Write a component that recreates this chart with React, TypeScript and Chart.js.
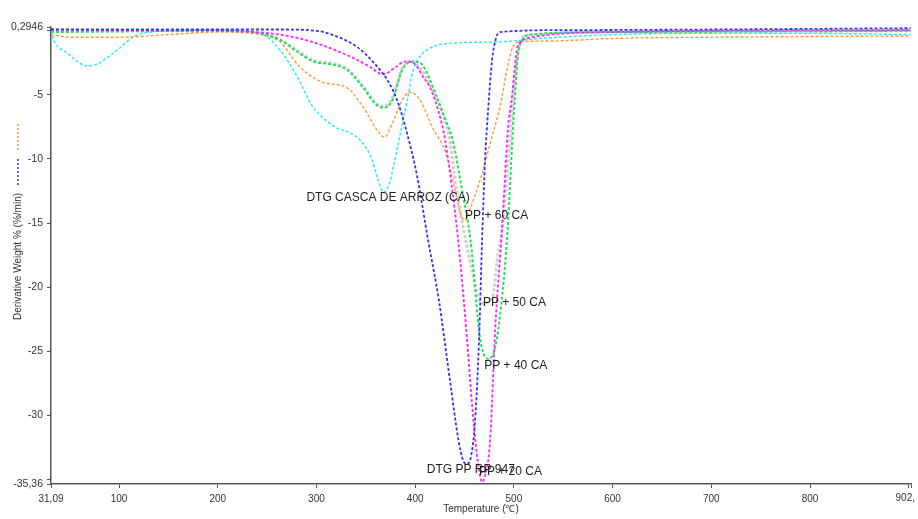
import React, { useEffect, useRef } from "react";
import { Chart, registerables } from "chart.js";

Chart.register(...registerables);

const FONT = '"Liberation Sans", Arial, Helvetica, sans-serif';

// ---- Data (Temperature °C / Derivative Weight %/min) ----
const caTemps = [31, 35, 47, 58, 67, 78, 88, 100, 114, 131, 160, 200, 243, 263, 280, 296, 310, 321, 335, 345, 355, 362, 368, 374, 378, 385, 392, 398, 405, 418, 445, 487, 527, 600, 700, 800, 902];
const caValues = [0.0, -0.9, -1.7, -2.4, -2.73, -2.6, -2.1, -1.4, -0.5, -0.1, 0.0, 0.05, -0.2, -1.5, -3.5, -5.9, -7.0, -7.6, -8.0, -8.6, -9.8, -11.5, -12.6, -11.9, -10.6, -8.0, -5.4, -3.05, -2.0, -1.25, -0.94, -0.86, -0.6, -0.3, -0.2, -0.2, -0.3];

const ppTemps = [31, 100, 200, 263, 300, 321, 341, 357, 371.5, 381.7, 391.8, 401.9, 413, 424, 435.3, 444, 448.5, 452, 455.6, 460.7, 464.7, 467.8, 470.8, 473.9, 477.9, 482, 486, 550, 700, 902];
const ppValues = [0.1, 0.1, 0.1, 0.1, 0.0, -0.45, -1.25, -2.4, -3.8, -5.4, -8.0, -11.3, -16.3, -21, -27.3, -32, -33.5, -33.8, -33.5, -30.4, -24.1, -16.3, -10.1, -6.2, -2.3, -0.55, -0.1, 0.05, 0.1, 0.2];

const pp20Temps = [31, 100, 200, 263, 297, 331, 354, 367, 381, 389, 397, 402, 408, 415, 425.2, 430.3, 443.5, 452.6, 458, 463.7, 467.8, 471.5, 476, 481, 488, 494, 498, 503, 506, 516, 600, 902];
const pp20Values = [0.1, 0.05, 0.0, -0.3, -0.9, -1.9, -2.8, -3.4, -2.8, -2.4, -2.45, -2.8, -3.6, -4.4, -6.7, -8.5, -16.3, -24.1, -29.5, -33.75, -35.2, -34.5, -31.95, -23.4, -15.5, -7.7, -5.2, -1.5, -0.94, -0.55, -0.1, 0.05];

const pp40Temps = [31, 100, 200, 243, 263, 280, 297, 314, 331, 347, 361, 369, 377, 387, 397, 405, 412, 422, 432, 438, 447, 456, 466, 474, 480, 484, 493, 499, 501, 504, 509, 516, 600, 902];
const pp40Values = [-0.1, -0.05, 0.0, -0.2, -0.7, -1.6, -2.4, -2.6, -3.05, -4.4, -5.8, -6.0, -5.4, -3.05, -2.4, -2.5, -3.3, -5.2, -7.2, -8.5, -12.2, -16.3, -24.1, -25.6, -25.0, -23.4, -16.3, -7.7, -5.2, -2.0, -0.7, -0.3, -0.1, 0.0];

const pp50Temps = [31, 100, 200, 243, 263, 280, 297, 314, 331, 347, 361, 369, 377, 387, 395, 405, 415, 425, 435, 441, 449, 455, 460, 464, 470, 476, 479, 483, 488, 496, 499, 505, 512, 600, 902];
const pp50Values = [-0.05, 0.0, 0.0, -0.2, -0.7, -1.5, -2.3, -2.5, -2.95, -4.3, -5.7, -5.9, -5.2, -2.9, -2.4, -2.9, -4.2, -5.9, -8.5, -12.0, -15.5, -17.8, -19.5, -20.8, -21.3, -21.0, -20.6, -18.0, -15.5, -8.5, -5.2, -1.3, -0.4, -0.1, 0.0];

const pp60Temps = [31, 50, 100, 150, 200, 243, 263, 283, 306, 331, 347, 361, 369, 377, 387, 394, 404, 418, 431, 438, 447, 450, 455, 466, 478, 486, 493, 499, 506, 537, 600, 700, 800, 902];
const pp60Values = [-0.3, -0.5, -0.5, -0.3, -0.1, -0.3, -0.86, -2.8, -4.0, -4.45, -5.9, -7.7, -8.3, -7.2, -5.4, -4.8, -5.3, -7.6, -9.5, -11.6, -14.5, -14.8, -14.0, -11.6, -8.2, -5.9, -3.05, -1.25, -0.86, -0.8, -0.6, -0.5, -0.45, -0.4];

// ---- Axes ----
const xMin = 31.09;
const xMax = 902.3;
const yMin = -35.36;
const yMax = 0.2946;
const xTickValues = [31.09, 100, 200, 300, 400, 500, 600, 700, 800, 900, 902.3];
const xTickLabels = ["31,09", "100", "200", "300", "400", "500", "600", "700", "800", "", ""];
const xLastTickLabel = "902,";
const yTickValues = [-35.36, -35, -30, -25, -20, -15, -10, -5, 0, 0.2946];
const yTickLabels = ["-35,36", "", "-30", "-25", "-20", "-15", "-10", "-5", "", "0,2946"];

const xTitle = "Temperature (\u2103)";
const yTitle = "Derivative Weight % (%/min)";

// ---- Curve annotations (text, anchored in data units) ----
const noteTexts = ["DTG CASCA DE ARROZ (CA)", "PP + 60 CA", "PP + 50 CA", "PP + 40 CA", "DTG PP RP 947", "PP + 20 CA"];
const noteTemps = [289.8, 450.6, 468.6, 470.0, 411.8, 464.6];
const noteValues = [-13.0, -14.45, -21.2, -26.1, -34.24, -34.4];

const pts = (t: number[], v: number[]) => t.map((x, i) => ({ x, y: v[i] }));

const overlay = {
  id: "overlay",
  afterDraw(chart: any) {
    const { ctx, chartArea, scales } = chart;
    const xs = scales.x;
    const ys = scales.y;
    ctx.save();
    // annotations
    ctx.font = `12px ${FONT}`;
    ctx.fillStyle = "#1e1e1e";
    ctx.textAlign = "left";
    ctx.textBaseline = "middle";
    noteTexts.forEach((t, i) => {
      ctx.fillText(t, xs.getPixelForValue(noteTemps[i]), ys.getPixelForValue(noteValues[i]));
    });
    // last x tick label, pulled inside the canvas
    ctx.font = `10px ${FONT}`;
    ctx.fillStyle = "#333";
    ctx.textAlign = "right";
    ctx.textBaseline = "top";
    ctx.fillText(xLastTickLabel, 915, chartArea.bottom + 9);
    // axis titles
    ctx.textAlign = "center";
    ctx.textBaseline = "middle";
    ctx.fillText(xTitle, (chartArea.left + chartArea.right) / 2, chartArea.bottom + 25);
    ctx.save();
    ctx.translate(18, (chartArea.top + chartArea.bottom) / 2 + 1);
    ctx.rotate(-Math.PI / 2);
    ctx.fillText(yTitle, 0, 0);
    ctx.restore();
    // small dashed legend marks beside the y title
    ctx.lineWidth = 1.5;
    ctx.setLineDash([2, 2]);
    ctx.strokeStyle = "#ff9933";
    ctx.beginPath();
    ctx.moveTo(18, chartArea.top + 97);
    ctx.lineTo(18, chartArea.top + 125);
    ctx.stroke();
    ctx.strokeStyle = "#3333ee";
    ctx.beginPath();
    ctx.moveTo(18, chartArea.top + 132);
    ctx.lineTo(18, chartArea.top + 159);
    ctx.stroke();
    ctx.restore();
  },
};

export default function App() {
  const ref = useRef<HTMLCanvasElement>(null);

  useEffect(() => {
    if (!ref.current) return;
    const line = (label: string, t: number[], v: number[], color: string, width: number, dash: number[]) => ({
      label,
      data: pts(t, v),
      borderColor: color,
      backgroundColor: color,
      borderWidth: width,
      borderDash: dash,
      pointRadius: 0,
      fill: false,
      cubicInterpolationMode: "monotone" as const,
    });

    const chart = new Chart(ref.current, {
      type: "line",
      data: {
        datasets: [
          line("DTG PP RP 947", ppTemps, ppValues, "#3535ee", 1.8, [3, 2]),
          line("PP + 20 CA", pp20Temps, pp20Values, "#ff22ff", 1.8, [3, 2]),
          line("PP + 40 CA", pp40Temps, pp40Values, "#22e05a", 2, [3, 2]),
          line("PP + 60 CA", pp60Temps, pp60Values, "#ff9933", 1.4, [3, 2]),
          line("DTG CASCA DE ARROZ (CA)", caTemps, caValues, "#22e8ff", 1.4, [3, 2]),
          line("PP + 50 CA", pp50Temps, pp50Values, "#cfcfcf", 3, [3, 2]),
        ],
      },
      options: {
        responsive: false,
        animation: false,
        events: [],
        layout: { padding: { top: 27, right: 7, bottom: 0, left: 0 } },
        plugins: {
          legend: { display: false },
          tooltip: { enabled: false },
          title: { display: false },
        },
        scales: {
          x: {
            type: "linear",
            min: xMin,
            max: xMax,
            afterBuildTicks: (scale: any) => {
              scale.ticks = xTickValues.map((value) => ({ value }));
            },
            afterFit: (scale: any) => {
              scale.height = 35;
              scale.paddingLeft = 0;
              scale.paddingRight = 0;
            },
            ticks: {
              autoSkip: false,
              maxRotation: 0,
              minRotation: 0,
              padding: 5,
              color: "#333",
              font: { family: FONT, size: 10 },
              callback: (_v: any, i: number) => xTickLabels[i] ?? "",
            },
            grid: { display: true, drawOnChartArea: false, drawTicks: true, tickLength: 4, color: "#555" },
            border: { display: true, color: "#555", width: 1.5 },
          },
          y: {
            type: "linear",
            min: yMin,
            max: yMax,
            afterBuildTicks: (scale: any) => {
              scale.ticks = yTickValues.map((value) => ({ value }));
            },
            afterFit: (scale: any) => {
              scale.width = 51;
              scale.paddingTop = 0;
              scale.paddingBottom = 0;
            },
            ticks: {
              autoSkip: false,
              padding: 4,
              color: "#333",
              font: { family: FONT, size: 10.5 },
              callback: (_v: any, i: number) => yTickLabels[i] ?? "",
            },
            grid: { display: true, drawOnChartArea: false, drawTicks: true, tickLength: 4, color: "#555" },
            border: { display: true, color: "#555", width: 1.5 },
          },
        },
      },
      plugins: [overlay],
    });
    return () => chart.destroy();
  }, []);

  return (
    <div style={{ position: "absolute", left: 0, top: 0, width: 918, height: 519, background: "#fff" }}>
      <canvas ref={ref} width={918} height={519} style={{ display: "block" }} />
    </div>
  );
}
